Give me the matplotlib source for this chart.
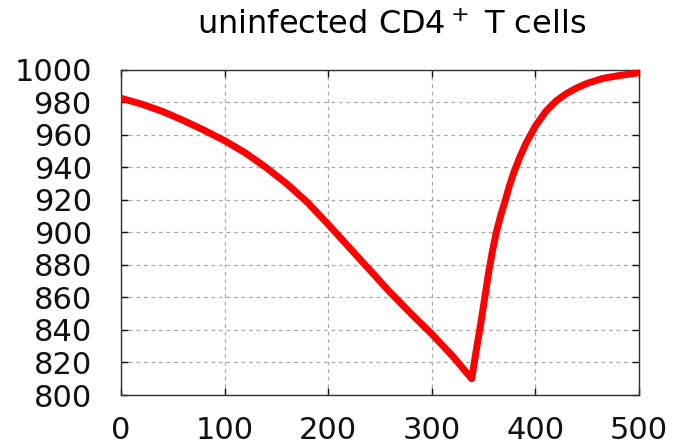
import matplotlib
matplotlib.use("Agg")
import matplotlib.pyplot as plt

# values
days = [0, 20, 40, 60, 80, 100, 120, 140, 160, 180, 200, 220, 240, 260, 280, 300, 320,
        338.5, 342.5, 347, 351, 355, 358.5, 362, 366.5, 371, 375, 379.5, 385, 391,
        400, 410, 420, 430, 440, 450, 465, 480, 500]
cells = [982.6, 979, 974.5, 969, 963, 956.5, 949, 940, 930, 918.5, 905, 891, 877, 863, 850,
         837.5, 824, 810, 826, 843, 859.5, 876, 888.5, 899.5, 910.5, 920, 929, 937.5, 946.5,
         955, 965.5, 974.5, 981, 985.5, 989, 991.8, 994.8, 996.5, 998.3]

title = r"uninfected CD4$^+$ T cells"
xticks = [0, 100, 200, 300, 400, 500]
yticks = list(range(800, 1001, 20))

plt.rcParams["font.family"] = ["DejaVu Sans"]

fig = plt.figure(figsize=(6.73, 4.48), dpi=100)
ax = fig.add_axes([0.1798, 0.1183, 0.7697, 0.7255])

ax.plot(days, cells, color="#ff0000", linewidth=5, solid_capstyle="round",
        solid_joinstyle="round", zorder=3)

ax.set_xlim(0, 500)
ax.set_ylim(800, 1000)
ax.set_xticks(xticks)
ax.set_yticks(yticks)

ax.grid(True, color="#a8a8a8", linestyle=(0, (3, 3)), linewidth=0.9)
ax.tick_params(direction="in", length=5, width=1, top=True, right=True,
               labelsize=22, colors="#111111")
ax.tick_params(axis="x", pad=15)
ax.tick_params(axis="y", pad=21)
for s in ax.spines.values():
    s.set_color("#333333")
    s.set_linewidth(1)

ax.set_title(title, fontsize=23, pad=26, x=0.522)

fig.savefig("out.png", dpi=100)
